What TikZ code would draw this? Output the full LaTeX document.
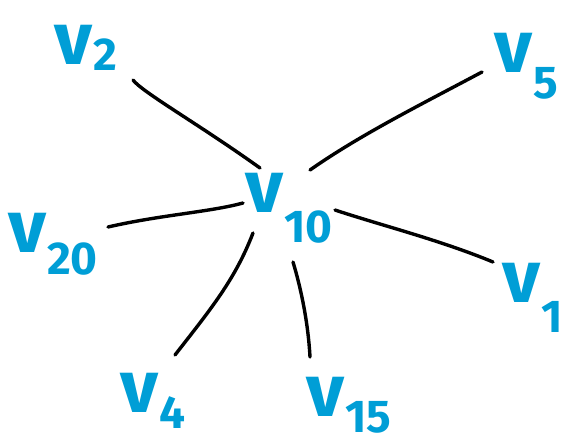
\documentclass[tikz,border=0pt]{standalone}
\usepackage{fontspec}
\setmainfont{Fira Sans}
\definecolor{vblue}{RGB}{0,158,214}
% vertex label: a large v with a lowered index
\newcommand\vlab[2]{\fontsize{74}{74}\selectfont\bfseries v\kern1pt\raisebox{-#2pt}{\fontsize{46}{46}\selectfont #1}}
\begin{document}
\begin{tikzpicture}[x=1pt,y=-1pt,
  lbl/.style={text=vblue, inner sep=0pt, anchor=base west},
  edge/.style={line width=3.4pt, line cap=round, line join=round}]
\useasboundingbox (0,0) rectangle (571,445);

% vertex labels
\node[lbl] (v2)  at (54,64)   {\vlab{2}{6}};
\node[lbl] (v5)  at (494,72)  {\vlab{5}{26}};
\node[lbl] (v10) at (245,212) {\vlab{10}{30}};
\node[lbl] (v20) at (8,252)   {\vlab{20}{22}};
\node[lbl] (v1)  at (502,302) {\vlab{1}{30}};
\node[lbl] (v4)  at (120,412) {\vlab{4}{16}};
\node[lbl] (v15) at (306,416) {\vlab{15}{16}};

% edge ends
\coordinate (c2)  at (133,80);
\coordinate (h2)  at (260,168);
\coordinate (c5)  at (482,72);
\coordinate (h5)  at (310,170);
\coordinate (c20) at (108,227);
\coordinate (h20) at (243,203);
\coordinate (c1)  at (493,262);
\coordinate (h1)  at (335,210);
\coordinate (c4)  at (175,355);
\coordinate (h4)  at (253,233);
\coordinate (c15) at (310,357);
\coordinate (h15) at (293,262);

% edges
\draw[edge] (c2) .. controls (142,92) and (200,125) .. (h2);
\draw[edge] (c5) .. controls (420,105) and (360,135) .. (h5);
\draw[edge] (c20) .. controls (160,215) and (210,212) .. (h20);
\draw[edge] (c1) .. controls (440,240) and (380,225) .. (h1);
\draw[edge] (c4) .. controls (210,310) and (235,280) .. (h4);
\draw[edge] (c15) .. controls (308,320) and (300,285) .. (h15);
\end{tikzpicture}
\end{document}
